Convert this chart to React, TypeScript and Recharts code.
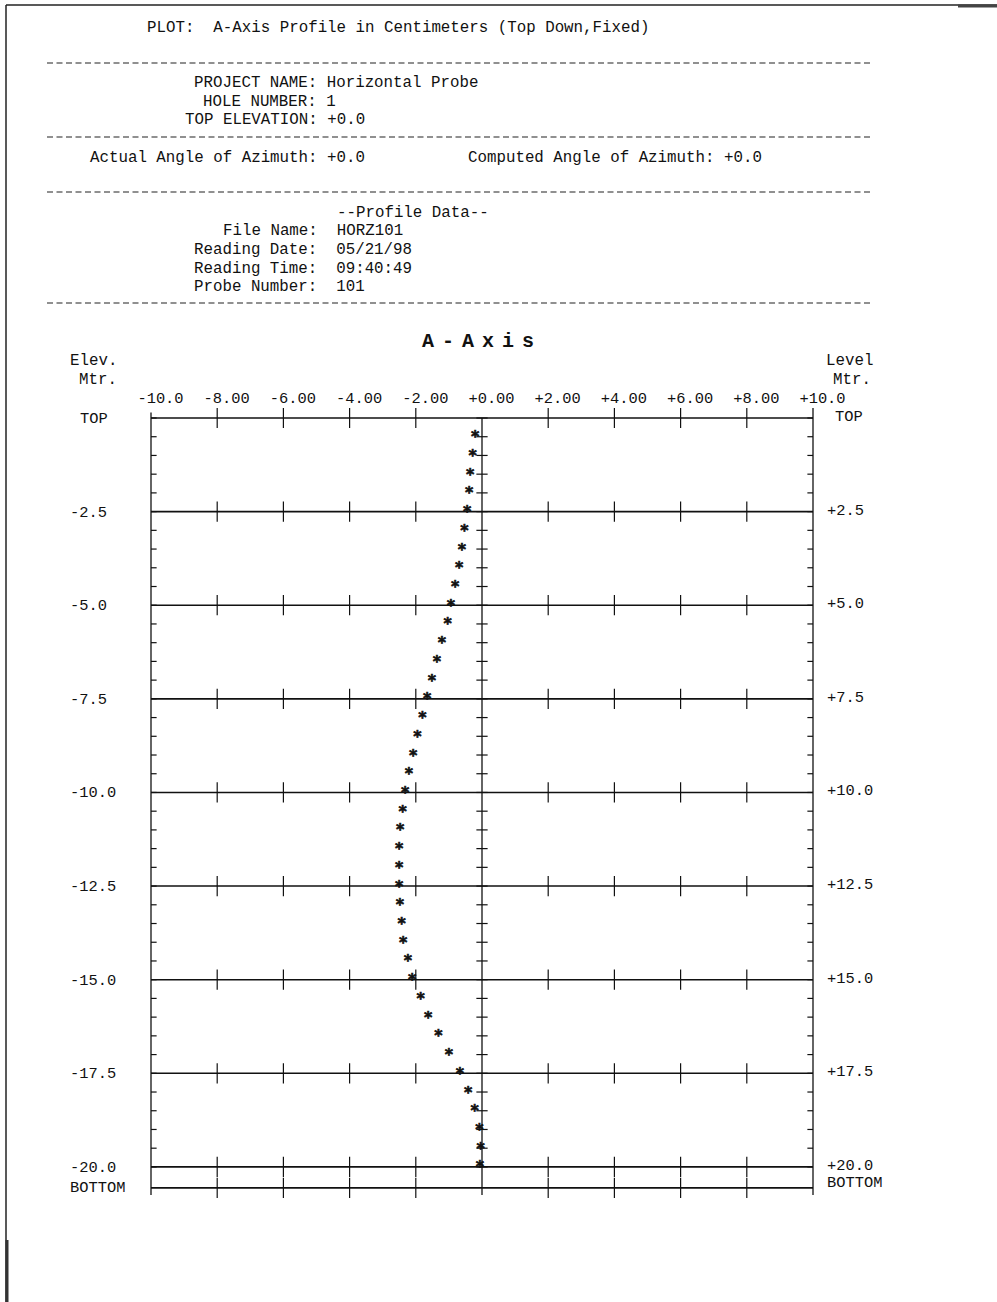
import React from "react";
import { ScatterChart, Scatter, XAxis, YAxis, ReferenceLine } from "recharts";

// depth below top (m), one reading every 0.5 m
const depths = [
  0.5, 1.0, 1.5, 2.0, 2.5, 3.0, 3.5, 4.0, 4.5, 5.0,
  5.5, 6.0, 6.5, 7.0, 7.5, 8.0, 8.5, 9.0, 9.5, 10.0,
  10.5, 11.0, 11.5, 12.0, 12.5, 13.0, 13.5, 14.0, 14.5, 15.0,
  15.5, 16.0, 16.5, 17.0, 17.5, 18.0, 18.5, 19.0, 19.5, 20.0,
];

// A-axis deviation (cm)
const deviations = [
  -0.21, -0.28, -0.36, -0.39, -0.45, -0.53, -0.61, -0.69, -0.81, -0.94,
  -1.04, -1.21, -1.36, -1.51, -1.66, -1.8, -1.95, -2.08, -2.21, -2.32,
  -2.4, -2.47, -2.5, -2.5, -2.5, -2.48, -2.43, -2.38, -2.24, -2.11,
  -1.85, -1.63, -1.32, -1.0, -0.67, -0.42, -0.22, -0.08, -0.04, -0.06,
];

const xTicks = [-10, -8, -6, -4, -2, 0, 2, 4, 6, 8, 10];
const xTickLabels = ["-10.0", "-8.00", "-6.00", "-4.00", "-2.00", "+0.00", "+2.00", "+4.00", "+6.00", "+8.00", "+10.0"];
const innerXTicks = [-8, -6, -4, -2, 2, 4, 6, 8];

const yTicks = [0, 2.5, 5, 7.5, 10, 12.5, 15, 17.5, 20];
const leftLabels = ["TOP", "-2.5", "-5.0", "-7.5", "-10.0", "-12.5", "-15.0", "-17.5", "-20.0"];
const rightLabels = ["TOP", "+2.5", "+5.0", "+7.5", "+10.0", "+12.5", "+15.0", "+17.5", "+20.0"];
const gridDepths = [0, 2.5, 5, 7.5, 10, 12.5, 15, 17.5, 20, 20.56];
const minorDepths = [0, ...depths];

const points = depths.map((d, i) => ({ x: deviations[i], y: d }));

const MONO = '"Liberation Mono", "DejaVu Sans Mono", monospace';
const INK = "#111";

const headerLines: { text: string; left: number; cy: number }[] = [
  { text: "PLOT:  A-Axis Profile in Centimeters (Top Down,Fixed)", left: 147, cy: 27 },
  { text: "PROJECT NAME: Horizontal Probe", left: 194, cy: 82 },
  { text: "HOLE NUMBER: 1", left: 203, cy: 101 },
  { text: "TOP ELEVATION: +0.0", left: 185, cy: 119 },
  { text: "Actual Angle of Azimuth: +0.0", left: 90, cy: 157 },
  { text: "Computed Angle of Azimuth: +0.0", left: 468, cy: 157 },
  { text: "--Profile Data--", left: 337, cy: 212 },
  { text: "File Name:  HORZ101", left: 223, cy: 230 },
  { text: "Reading Date:  05/21/98", left: 194, cy: 249 },
  { text: "Reading Time:  09:40:49", left: 194, cy: 268 },
  { text: "Probe Number:  101", left: 194, cy: 286 },
  { text: "Elev.", left: 70, cy: 360 },
  { text: "Mtr.", left: 79, cy: 379 },
  { text: "Level", left: 826, cy: 360 },
  { text: "Mtr.", left: 833, cy: 379 },
];
const dashedRows = [63, 137, 192, 303];

const XTick = (props: any) => {
  const { x, y, payload } = props;
  const i = xTicks.indexOf(payload.value);
  return (
    <text x={x + 9.5} y={y - 15} textAnchor="middle" fontFamily={MONO} fontSize={15.4} fill={INK}>
      {xTickLabels[i]}
    </text>
  );
};

const LeftTick = (props: any) => {
  const { x, y, payload } = props;
  const i = yTicks.indexOf(payload.value);
  return (
    <g fontFamily={MONO} fontSize={15.4} fill={INK}>
      <text x={x - 81 + (i === 0 ? 10 : 0)} y={y + 5}>{leftLabels[i]}</text>
      {i === yTicks.length - 1 && <text x={x - 81} y={y + 25}>BOTTOM</text>}
    </g>
  );
};

const RightTick = (props: any) => {
  const { x, y, payload } = props;
  const i = yTicks.indexOf(payload.value);
  return (
    <g fontFamily={MONO} fontSize={15.4} fill={INK}>
      <text x={x + 14 + (i === 0 ? 8 : 0)} y={y + 3}>{rightLabels[i]}</text>
      {i === yTicks.length - 1 && <text x={x + 14} y={y + 20}>BOTTOM</text>}
    </g>
  );
};

// printed asterisk, as text like the original printout
const Star = (props: any) => {
  const { cx, cy } = props;
  return (
    <text
      x={cx}
      y={cy + 5.5}
      textAnchor="middle"
      fontFamily='"DejaVu Sans Mono", monospace'
      fontSize={15.5}
      fontWeight="bold"
      fill={INK}
      stroke={INK}
      strokeWidth={0.7}
    >
      *
    </text>
  );
};

export default function App() {
  return (
    <div
      style={{
        position: "absolute",
        left: 0,
        top: 0,
        width: 997,
        height: 1302,
        background: "#fff",
        overflow: "hidden",
        fontFamily: MONO,
        color: INK,
      }}
    >
      <svg width={997} height={1302} style={{ position: "absolute", left: 0, top: 0 }}>
        <line x1={6} y1={5} x2={997} y2={5} stroke="#222" strokeWidth={1.5} />
        <line x1={958} y1={6} x2={997} y2={6} stroke="#444" strokeWidth={3} />
        <line x1={6} y1={5} x2={6} y2={1302} stroke="#222" strokeWidth={1.5} />
        <line x1={7} y1={1240} x2={7} y2={1302} stroke="#333" strokeWidth={3} />
        {dashedRows.map((y) => (
          <line key={y} x1={47} y1={y} x2={872} y2={y} stroke="#222" strokeWidth={1.2} strokeDasharray="6 3.5" />
        ))}
      </svg>

      <div style={{ position: "absolute", left: 0, top: 0 }}>
        <ScatterChart width={997} height={1302} margin={{ top: 388, left: 70, right: 104, bottom: 107 }}>
          <XAxis
            type="number"
            dataKey="x"
            orientation="top"
            domain={[-10, 10]}
            ticks={xTicks}
            height={30}
            axisLine={false}
            tickLine={false}
            tickSize={0}
            tickMargin={0}
            tick={<XTick />}
            allowDataOverflow
          />
          <YAxis
            yAxisId="left"
            type="number"
            dataKey="y"
            domain={[0, 20.75]}
            reversed
            ticks={yTicks}
            width={81}
            axisLine={false}
            tickLine={false}
            tickSize={0}
            tickMargin={0}
            tick={<LeftTick />}
            allowDataOverflow
          />
          <YAxis
            yAxisId="right"
            orientation="right"
            type="number"
            dataKey="y"
            domain={[0, 20.75]}
            reversed
            ticks={yTicks}
            width={80}
            axisLine={false}
            tickLine={false}
            tickSize={0}
            tickMargin={0}
            tick={<RightTick />}
            allowDataOverflow
          />

          {gridDepths.map((d) => (
            <ReferenceLine key={`h${d}`} yAxisId="left" y={d} stroke={INK} strokeWidth={1.6} ifOverflow="visible" />
          ))}

          <ReferenceLine yAxisId="left" segment={[{ x: -10, y: -0.15 }, { x: -10, y: 20.75 }]} stroke={INK} strokeWidth={1.3} ifOverflow="visible" />
          <ReferenceLine yAxisId="left" segment={[{ x: 10, y: -0.27 }, { x: 10, y: 20.75 }]} stroke={INK} strokeWidth={1.3} ifOverflow="visible" />
          <ReferenceLine yAxisId="left" segment={[{ x: 0, y: 0 }, { x: 0, y: 20.75 }]} stroke={INK} strokeWidth={1.3} ifOverflow="visible" />

          {minorDepths.map((d) => (
            <ReferenceLine key={`ml${d}`} yAxisId="left" segment={[{ x: -10, y: d }, { x: -9.83, y: d }]} stroke={INK} strokeWidth={1.2} ifOverflow="visible" />
          ))}
          {minorDepths.map((d) => (
            <ReferenceLine key={`mr${d}`} yAxisId="left" segment={[{ x: 9.83, y: d }, { x: 10, y: d }]} stroke={INK} strokeWidth={1.2} ifOverflow="visible" />
          ))}
          {minorDepths.map((d) => (
            <ReferenceLine key={`mc${d}`} yAxisId="left" segment={[{ x: -0.17, y: d }, { x: 0.17, y: d }]} stroke={INK} strokeWidth={1.2} ifOverflow="visible" />
          ))}

          {gridDepths.flatMap((d) =>
            innerXTicks.map((t) => (
              <ReferenceLine
                key={`t${d}_${t}`}
                yAxisId="left"
                segment={[{ x: t, y: d - 0.27 }, { x: t, y: d + 0.27 }]}
                stroke={INK}
                strokeWidth={1.2}
                ifOverflow="visible"
              />
            ))
          )}

          <Scatter yAxisId="left" data={points} shape={<Star />} isAnimationActive={false} />
        </ScatterChart>
      </div>

      {headerLines.map((l, i) => (
        <div
          key={i}
          style={{
            position: "absolute",
            left: l.left,
            top: l.cy - 8,
            fontSize: 15.8,
            lineHeight: "18px",
            whiteSpace: "pre",
          }}
        >
          {l.text}
        </div>
      ))}
      <div
        style={{
          position: "absolute",
          left: 422,
          top: 331,
          fontSize: 20,
          fontWeight: "bold",
          letterSpacing: 8,
          lineHeight: "22px",
          whiteSpace: "pre",
        }}
      >
        A-Axis
      </div>
    </div>
  );
}
